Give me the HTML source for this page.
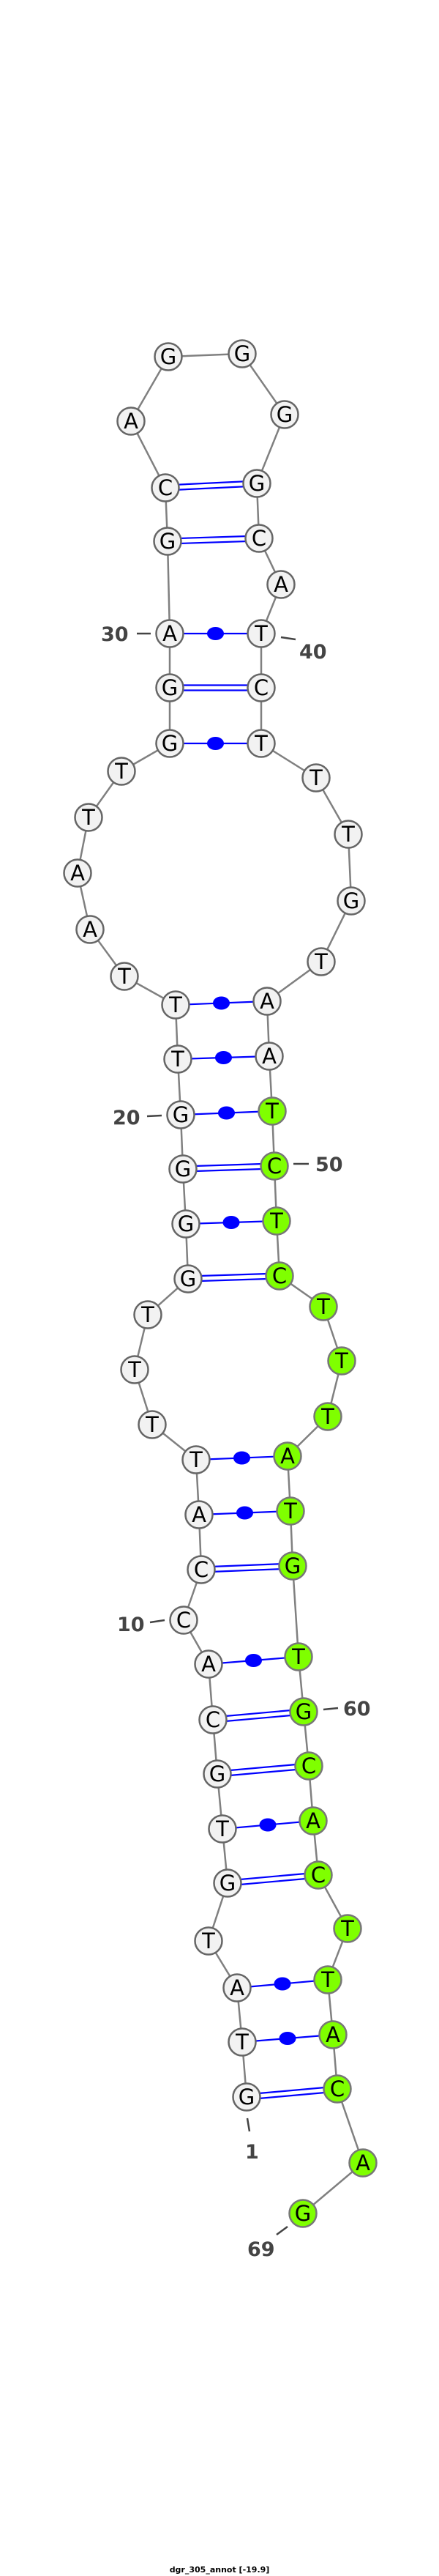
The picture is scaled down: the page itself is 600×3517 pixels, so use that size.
<!DOCTYPE html>
<html><head><meta charset="utf-8"><style>
html,body{margin:0;padding:0;background:#fff;}
svg{display:block;}
.n{fill:#f2f2f2;stroke:#666;stroke-width:2.5;}
.g{fill:#7fff00;stroke:#777;stroke-width:2.5;}
.t{font-family:"DejaVu Sans",sans-serif;font-size:29px;text-anchor:middle;fill:#000;}
.p{stroke:#0000ff;stroke-width:2.2;}
.d{fill:#0000ff;}
.l{font-family:"DejaVu Sans","Liberation Sans",sans-serif;font-weight:bold;font-size:27px;fill:#444;}
.k{stroke:#444;stroke-width:2.5;}
</style></head><body>
<svg width="600" height="3517" viewBox="0 0 600 3517" xmlns="http://www.w3.org/2000/svg">
<polyline fill="none" stroke="#808080" stroke-width="2.5" points="337,2863 331,2788 324,2714 285,2650 311,2571 304,2497 297,2422 291,2348 285,2272 251,2212 275,2143 272,2068 268,1993 208,1945 184,1870 202,1795 257,1746 254,1671 250,1596 247,1522 243,1446 240,1372 170,1333 123,1269 106,1192 121,1116 166,1053 232,1015 232,939 232,865 229,739 226,666 179,575 230,487 331,483 389,566 351,660 354,735 384,798 357,865 357,939 357,1015 432,1062 476,1139 480,1230 439,1313 365,1367 368,1442 372,1517 375,1592 378,1667 382,1742 442,1784 467,1858 448,1934 393,1988 397,2063 400,2138 408,2262 415,2337 422,2411 428,2486 435,2560 475,2633 448,2703 455,2778 461,2852 496,2953 414,3022"/>
<!-- pairs: double (GC) -->
<g class="p">
<line x1="337" y1="2859.5" x2="461" y2="2848.5"/><line x1="337" y1="2866.5" x2="461" y2="2855.5"/>
<line x1="311" y1="2567.5" x2="435" y2="2556.5"/><line x1="311" y1="2574.5" x2="435" y2="2563.5"/>
<line x1="297" y1="2418.5" x2="422" y2="2407.5"/><line x1="297" y1="2425.5" x2="422" y2="2414.5"/>
<line x1="291" y1="2344.5" x2="415" y2="2333.5"/><line x1="291" y1="2351.5" x2="415" y2="2340.5"/>
<line x1="275" y1="2139.5" x2="400" y2="2134.5"/><line x1="275" y1="2146.5" x2="400" y2="2141.5"/>
<line x1="257" y1="1742.5" x2="382" y2="1738.5"/><line x1="257" y1="1749.5" x2="382" y2="1745.5"/>
<line x1="250" y1="1592.5" x2="375" y2="1588.5"/><line x1="250" y1="1599.5" x2="375" y2="1595.5"/>
<line x1="232" y1="935.5" x2="357" y2="935.5"/><line x1="232" y1="942.5" x2="357" y2="942.5"/>
<line x1="229" y1="735.5" x2="354" y2="731.5"/><line x1="229" y1="742.5" x2="354" y2="738.5"/>
<line x1="226" y1="662.5" x2="351" y2="656.5"/><line x1="226" y1="669.5" x2="351" y2="663.5"/>
<!-- single with dot -->
<line x1="331" y1="2788" x2="455" y2="2778"/>
<line x1="324" y1="2714" x2="448" y2="2703"/>
<line x1="304" y1="2497" x2="428" y2="2486"/>
<line x1="285" y1="2272" x2="408" y2="2262"/>
<line x1="272" y1="2068" x2="397" y2="2063"/>
<line x1="268" y1="1993" x2="393" y2="1988"/>
<line x1="254" y1="1671" x2="378" y2="1667"/>
<line x1="247" y1="1522" x2="372" y2="1517"/>
<line x1="243" y1="1446" x2="368" y2="1442"/>
<line x1="240" y1="1372" x2="365" y2="1367"/>
<line x1="232" y1="1015" x2="357" y2="1015"/>
<line x1="232" y1="865" x2="357" y2="865"/>
</g>
<g class="d">
<ellipse cx="393" cy="2783" rx="11.5" ry="9"/>
<ellipse cx="386" cy="2708.5" rx="11.5" ry="9"/>
<ellipse cx="366" cy="2491.5" rx="11.5" ry="9"/>
<ellipse cx="346.5" cy="2267" rx="11.5" ry="9"/>
<ellipse cx="334.5" cy="2065.5" rx="11.5" ry="9"/>
<ellipse cx="330.5" cy="1990.5" rx="11.5" ry="9"/>
<ellipse cx="316" cy="1669" rx="11.5" ry="9"/>
<ellipse cx="309.5" cy="1519.5" rx="11.5" ry="9"/>
<ellipse cx="305.5" cy="1444" rx="11.5" ry="9"/>
<ellipse cx="302.5" cy="1369.5" rx="11.5" ry="9"/>
<ellipse cx="294.5" cy="1015" rx="11.5" ry="9"/>
<ellipse cx="294.5" cy="865" rx="11.5" ry="9"/>
</g>
<!-- label ticks -->
<g class="k">
<line x1="187" y1="865" x2="206" y2="865"/>
<line x1="384" y1="870" x2="404" y2="873"/>
<line x1="201" y1="1524" x2="221" y2="1523"/>
<line x1="401" y1="1589" x2="422" y2="1589"/>
<line x1="205" y1="2215" x2="225" y2="2212"/>
<line x1="442" y1="2334" x2="462" y2="2332"/>
<line x1="338" y1="2892" x2="341" y2="2910"/>
<line x1="378" y1="3051" x2="393" y2="3040"/>
</g>
<g class="l">
<text x="138" y="875">30</text>
<text x="409" y="899">40</text>
<text x="154" y="1535">20</text>
<text x="431" y="1599">50</text>
<text x="160" y="2227">10</text>
<text x="469" y="2342">60</text>
<text x="335" y="2947">1</text>
<text x="338" y="3080">69</text>
</g>
<!-- nodes -->
<g>
<circle class="n" cx="337" cy="2863" r="18.5"/><text class="t" x="337" y="2873">G</text>
<circle class="n" cx="331" cy="2788" r="18.5"/><text class="t" x="331" y="2798">T</text>
<circle class="n" cx="324" cy="2714" r="18.5"/><text class="t" x="324" y="2724">A</text>
<circle class="n" cx="285" cy="2650" r="18.5"/><text class="t" x="285" y="2660">T</text>
<circle class="n" cx="311" cy="2571" r="18.5"/><text class="t" x="311" y="2581">G</text>
<circle class="n" cx="304" cy="2497" r="18.5"/><text class="t" x="304" y="2507">T</text>
<circle class="n" cx="297" cy="2422" r="18.5"/><text class="t" x="297" y="2432">G</text>
<circle class="n" cx="291" cy="2348" r="18.5"/><text class="t" x="291" y="2358">C</text>
<circle class="n" cx="285" cy="2272" r="18.5"/><text class="t" x="285" y="2282">A</text>
<circle class="n" cx="251" cy="2212" r="18.5"/><text class="t" x="251" y="2222">C</text>
<circle class="n" cx="275" cy="2143" r="18.5"/><text class="t" x="275" y="2153">C</text>
<circle class="n" cx="272" cy="2068" r="18.5"/><text class="t" x="272" y="2078">A</text>
<circle class="n" cx="268" cy="1993" r="18.5"/><text class="t" x="268" y="2003">T</text>
<circle class="n" cx="208" cy="1945" r="18.5"/><text class="t" x="208" y="1955">T</text>
<circle class="n" cx="184" cy="1870" r="18.5"/><text class="t" x="184" y="1880">T</text>
<circle class="n" cx="202" cy="1795" r="18.5"/><text class="t" x="202" y="1805">T</text>
<circle class="n" cx="257" cy="1746" r="18.5"/><text class="t" x="257" y="1756">G</text>
<circle class="n" cx="254" cy="1671" r="18.5"/><text class="t" x="254" y="1681">G</text>
<circle class="n" cx="250" cy="1596" r="18.5"/><text class="t" x="250" y="1606">G</text>
<circle class="n" cx="247" cy="1522" r="18.5"/><text class="t" x="247" y="1532">G</text>
<circle class="n" cx="243" cy="1446" r="18.5"/><text class="t" x="243" y="1456">T</text>
<circle class="n" cx="240" cy="1372" r="18.5"/><text class="t" x="240" y="1382">T</text>
<circle class="n" cx="170" cy="1333" r="18.5"/><text class="t" x="170" y="1343">T</text>
<circle class="n" cx="123" cy="1269" r="18.5"/><text class="t" x="123" y="1279">A</text>
<circle class="n" cx="106" cy="1192" r="18.5"/><text class="t" x="106" y="1202">A</text>
<circle class="n" cx="121" cy="1116" r="18.5"/><text class="t" x="121" y="1126">T</text>
<circle class="n" cx="166" cy="1053" r="18.5"/><text class="t" x="166" y="1063">T</text>
<circle class="n" cx="232" cy="1015" r="18.5"/><text class="t" x="232" y="1025">G</text>
<circle class="n" cx="232" cy="939" r="18.5"/><text class="t" x="232" y="949">G</text>
<circle class="n" cx="232" cy="865" r="18.5"/><text class="t" x="232" y="875">A</text>
<circle class="n" cx="229" cy="739" r="18.5"/><text class="t" x="229" y="749">G</text>
<circle class="n" cx="226" cy="666" r="18.5"/><text class="t" x="226" y="676">C</text>
<circle class="n" cx="179" cy="575" r="18.5"/><text class="t" x="179" y="585">A</text>
<circle class="n" cx="230" cy="487" r="18.5"/><text class="t" x="230" y="497">G</text>
<circle class="n" cx="331" cy="483" r="18.5"/><text class="t" x="331" y="493">G</text>
<circle class="n" cx="389" cy="566" r="18.5"/><text class="t" x="389" y="576">G</text>
<circle class="n" cx="351" cy="660" r="18.5"/><text class="t" x="351" y="670">G</text>
<circle class="n" cx="354" cy="735" r="18.5"/><text class="t" x="354" y="745">C</text>
<circle class="n" cx="384" cy="798" r="18.5"/><text class="t" x="384" y="808">A</text>
<circle class="n" cx="357" cy="865" r="18.5"/><text class="t" x="357" y="875">T</text>
<circle class="n" cx="357" cy="939" r="18.5"/><text class="t" x="357" y="949">C</text>
<circle class="n" cx="357" cy="1015" r="18.5"/><text class="t" x="357" y="1025">T</text>
<circle class="n" cx="432" cy="1062" r="18.5"/><text class="t" x="432" y="1072">T</text>
<circle class="n" cx="476" cy="1139" r="18.5"/><text class="t" x="476" y="1149">T</text>
<circle class="n" cx="480" cy="1230" r="18.5"/><text class="t" x="480" y="1240">G</text>
<circle class="n" cx="439" cy="1313" r="18.5"/><text class="t" x="439" y="1323">T</text>
<circle class="n" cx="365" cy="1367" r="18.5"/><text class="t" x="365" y="1377">A</text>
<circle class="n" cx="368" cy="1442" r="18.5"/><text class="t" x="368" y="1452">A</text>
<circle class="g" cx="372" cy="1517" r="18.5"/><text class="t" x="372" y="1527">T</text>
<circle class="g" cx="375" cy="1592" r="18.5"/><text class="t" x="375" y="1602">C</text>
<circle class="g" cx="378" cy="1667" r="18.5"/><text class="t" x="378" y="1677">T</text>
<circle class="g" cx="382" cy="1742" r="18.5"/><text class="t" x="382" y="1752">C</text>
<circle class="g" cx="442" cy="1784" r="18.5"/><text class="t" x="442" y="1794">T</text>
<circle class="g" cx="467" cy="1858" r="18.5"/><text class="t" x="467" y="1868">T</text>
<circle class="g" cx="448" cy="1934" r="18.5"/><text class="t" x="448" y="1944">T</text>
<circle class="g" cx="393" cy="1988" r="18.5"/><text class="t" x="393" y="1998">A</text>
<circle class="g" cx="397" cy="2063" r="18.5"/><text class="t" x="397" y="2073">T</text>
<circle class="g" cx="400" cy="2138" r="18.5"/><text class="t" x="400" y="2148">G</text>
<circle class="g" cx="408" cy="2262" r="18.5"/><text class="t" x="408" y="2272">T</text>
<circle class="g" cx="415" cy="2337" r="18.5"/><text class="t" x="415" y="2347">G</text>
<circle class="g" cx="422" cy="2411" r="18.5"/><text class="t" x="422" y="2421">C</text>
<circle class="g" cx="428" cy="2486" r="18.5"/><text class="t" x="428" y="2496">A</text>
<circle class="g" cx="435" cy="2560" r="18.5"/><text class="t" x="435" y="2570">C</text>
<circle class="g" cx="475" cy="2633" r="18.5"/><text class="t" x="475" y="2643">T</text>
<circle class="g" cx="448" cy="2703" r="18.5"/><text class="t" x="448" y="2713">T</text>
<circle class="g" cx="455" cy="2778" r="18.5"/><text class="t" x="455" y="2788">A</text>
<circle class="g" cx="461" cy="2852" r="18.5"/><text class="t" x="461" y="2862">C</text>
<circle class="g" cx="496" cy="2953" r="18.5"/><text class="t" x="496" y="2963">A</text>
<circle class="g" cx="414" cy="3022" r="18.5"/><text class="t" x="414" y="3032">G</text>
</g>
<text x="300" y="3512" text-anchor="middle" font-family="'DejaVu Sans','Liberation Sans',sans-serif" font-weight="bold" font-size="11" fill="#000">dgr_305_annot [-19.9]</text>
</svg>
</body></html>
